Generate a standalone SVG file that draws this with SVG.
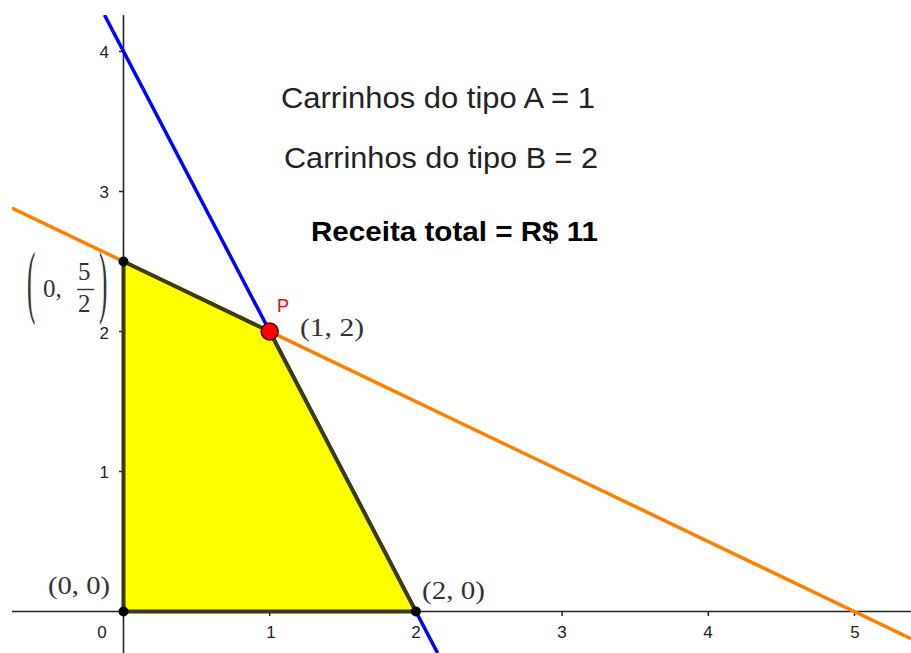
<svg xmlns="http://www.w3.org/2000/svg" width="911" height="653" viewBox="0 0 911 653">
<defs>
<style>
.axis{stroke:#222;stroke-width:1.6;fill:none}
.tick{stroke:#222;stroke-width:1.5}
.tl{font-family:"Liberation Sans",Arial,sans-serif;font-size:17px;fill:#222}
.tlx{text-anchor:middle}
.tly{text-anchor:end}
.math{font-family:"Liberation Serif","DejaVu Serif",serif;font-size:25px;fill:#333}
.big{font-family:"Liberation Sans",Arial,sans-serif;font-size:30px;fill:#222}
.bold{font-family:"Liberation Sans",Arial,sans-serif;font-size:28px;font-weight:bold;fill:#000}
.vtx{fill:#000}
</style>
<clipPath id="view"><rect x="12" y="15" width="899" height="638"/></clipPath>
</defs>
<rect width="911" height="653" fill="#fff"/>
<g id="axes">
<line class="axis" x1="12" y1="611.5" x2="911" y2="611.5"/>
<line class="axis" x1="123.5" y1="15" x2="123.5" y2="653"/>
<g class="tick">
<line x1="269.7" y1="611.5" x2="269.7" y2="616"/>
<line x1="415.9" y1="611.5" x2="415.9" y2="616"/>
<line x1="562.1" y1="611.5" x2="562.1" y2="616"/>
<line x1="708.3" y1="611.5" x2="708.3" y2="616"/>
<line x1="854.5" y1="611.5" x2="854.5" y2="616"/>
<line x1="119" y1="471.5" x2="123.5" y2="471.5"/>
<line x1="119" y1="331.5" x2="123.5" y2="331.5"/>
<line x1="119" y1="191.5" x2="123.5" y2="191.5"/>
<line x1="119" y1="51.5" x2="123.5" y2="51.5"/>
</g>
<g class="tl">
<text class="tlx" x="102" y="638">0</text>
<text class="tlx" x="271" y="638">1</text>
<text class="tlx" x="416" y="638">2</text>
<text class="tlx" x="562" y="638">3</text>
<text class="tlx" x="708" y="638">4</text>
<text class="tlx" x="855" y="638">5</text>
<text class="tly" x="109" y="478">1</text>
<text class="tly" x="109" y="339">2</text>
<text class="tly" x="109" y="198">3</text>
<text class="tly" x="109" y="58">4</text>
</g>
</g>
<g id="lines" clip-path="url(#view)">
<line id="blue-line" x1="104.5" y1="15" x2="437.6" y2="653" stroke="#0000ff" stroke-width="3.5"/>
<line id="orange-line" x1="12" y1="208.1" x2="911" y2="638.6" stroke="#ff8000" stroke-width="3.5"/>
</g>
<g id="region">
<polygon points="123.5,611.5 123.5,261.5 269.7,331.5 415.9,611.5" fill="#ffff00" stroke="#3c3c0a" stroke-width="4" stroke-linejoin="round"/>
</g>
<g id="vertices">
<circle class="vtx" cx="123.5" cy="611.5" r="5"/>
<circle class="vtx" cx="123.5" cy="261.5" r="5"/>
<circle class="vtx" cx="415.9" cy="611.5" r="5"/>
</g>
<g id="P">
<circle cx="269.7" cy="331.5" r="8.5" fill="#ff0000" stroke="#400000" stroke-width="1.5"/>
<text x="277" y="312" font-family="'Liberation Sans',Arial,sans-serif" font-size="18" fill="#ff0000">P</text>
</g>
<g id="labels">
<text class="math" x="300" y="336" textLength="64" lengthAdjust="spacingAndGlyphs">(1, 2)</text>
<text class="math" x="48" y="594" textLength="62" lengthAdjust="spacingAndGlyphs">(0, 0)</text>
<text class="math" x="422" y="599" textLength="63" lengthAdjust="spacingAndGlyphs">(2, 0)</text>
<g id="label-0-5-2">
<text class="math" transform="translate(27,308) scale(1,3.2)" font-size="26">(</text>
<text class="math" x="43" y="297" font-size="27">0,</text>
<text class="math" x="78" y="280">5</text>
<line x1="77" y1="289.5" x2="94" y2="289.5" stroke="#333" stroke-width="1.4"/>
<text class="math" x="78" y="312">2</text>
<text class="math" transform="translate(99,308) scale(1,3.2)" font-size="26">)</text>
</g>
</g>
<g id="info">
<text class="big" x="281" y="108" textLength="314" lengthAdjust="spacingAndGlyphs">Carrinhos do tipo A = 1</text>
<text class="big" x="284" y="168" textLength="314" lengthAdjust="spacingAndGlyphs">Carrinhos do tipo B = 2</text>
<text class="bold" x="311" y="241" textLength="287" lengthAdjust="spacingAndGlyphs">Receita total = R$ 11</text>
</g>
</svg>
